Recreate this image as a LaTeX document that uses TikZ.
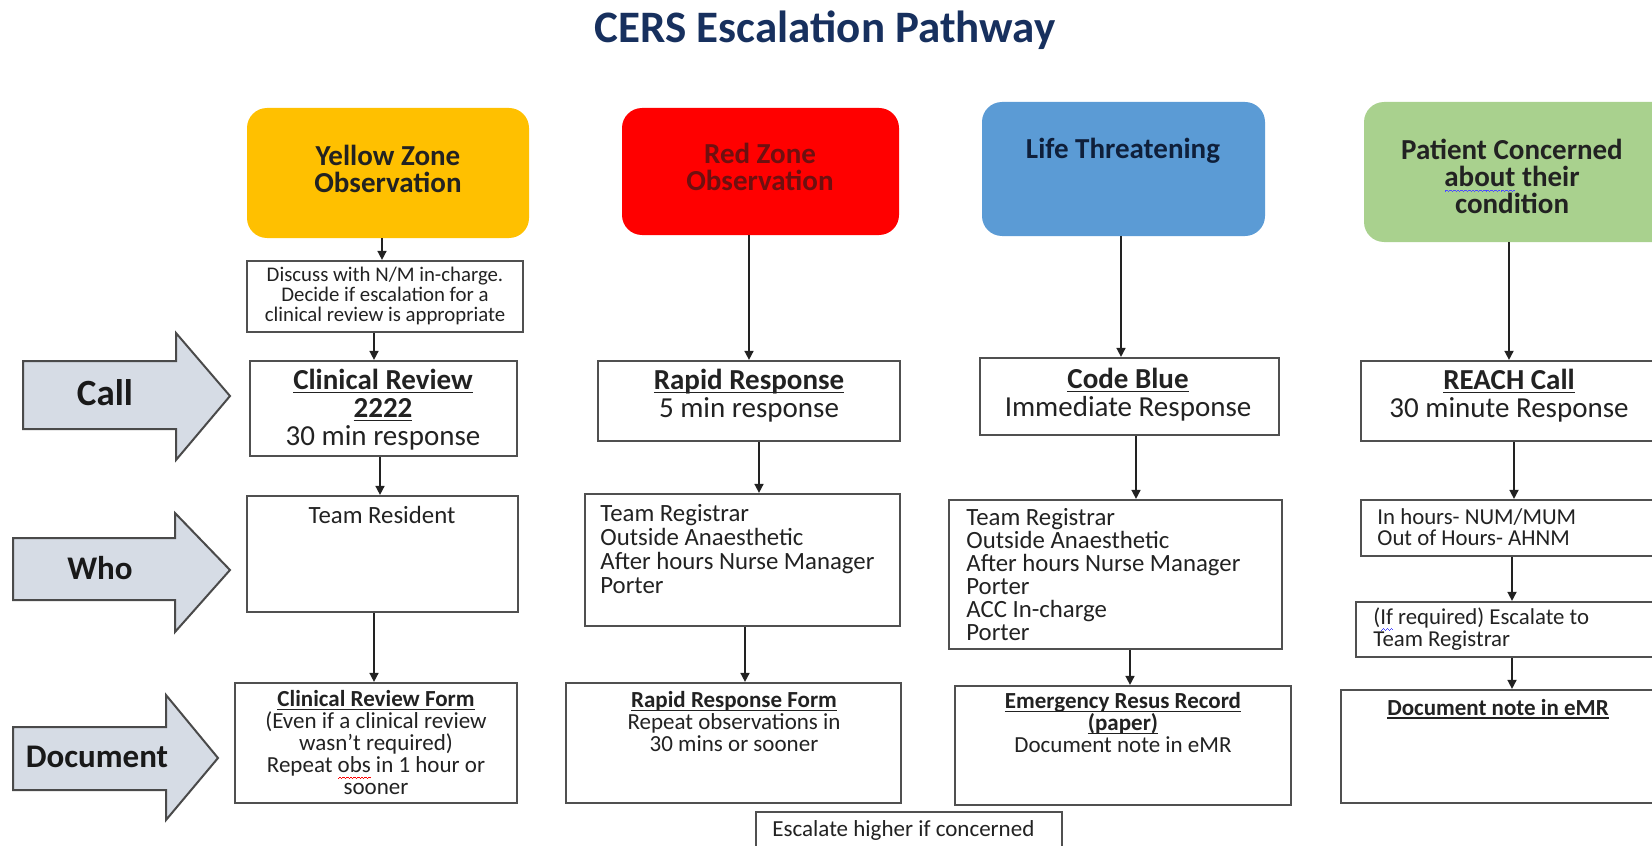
\documentclass[tikz,border=0pt]{standalone}
\usepackage{fontspec}
\setmainfont{Carlito}
\usetikzlibrary{arrows.meta,fit}

\definecolor{titleblue}{HTML}{17305E}
\definecolor{zyellow}{HTML}{FFC000}
\definecolor{zred}{HTML}{FF0000}
\definecolor{zblue}{HTML}{5B9BD5}
\definecolor{zgreen}{HTML}{A9D18E}
\definecolor{redtext}{HTML}{6E1010}
\definecolor{bluetext}{HTML}{0F1F3A}
\definecolor{boxgray}{HTML}{505050}
\definecolor{arrowfill}{HTML}{D6DCE5}
\definecolor{arrowedge}{HTML}{4A4A4A}
\definecolor{ink}{HTML}{222222}

% spell-checker style wavy underline, built from tiny staggered rules
\newsavebox\wavebox
\newcommand\wavyline[2]{\leavevmode\sbox\wavebox{#2}%
  \rlap{\smash{\textcolor{#1}{\hbox to \wd\wavebox{\xleaders\hbox{%
    \rule[-3.0pt]{0.45pt}{0.5pt}\rule[-2.65pt]{0.45pt}{0.5pt}%
    \rule[-2.3pt]{0.45pt}{0.5pt}\rule[-2.65pt]{0.45pt}{0.5pt}}\hfil}}}}%
  \usebox\wavebox}
% underline at a fixed depth just under the baseline
\newsavebox\ulbox
\newcommand\ul[1]{\leavevmode\sbox\ulbox{#1}%
  \rlap{\rule[-1.7pt]{\wd\ulbox}{0.65pt}}\usebox\ulbox}

% font sizes
\newcommand\ftitle{\fontsize{22.5}{26}\selectfont\bfseries}
\newcommand\fzone{\fontsize{14.5}{13.5}\selectfont\bfseries}
\newcommand\fcallbox{\fontsize{14.5}{14}\selectfont}
\newcommand\fdisc{\fontsize{10.4}{10}\selectfont}
\newcommand\fwho{\fontsize{12.4}{12}\selectfont}
\newcommand\fwhob{\fontsize{12.4}{11.5}\selectfont}
\newcommand\fdoc{\fontsize{11.5}{11}\selectfont}
\newcommand\fsmall{\fontsize{11.4}{10.75}\selectfont}
\newcommand\flab{\fontsize{16.5}{18}\selectfont\bfseries}

\tikzset{
  box/.style={draw=boxgray, line width=1.1pt, fill=white, inner sep=0pt},
  zone/.style={rounded corners=10pt, inner sep=0pt, draw=none},
  conn/.style={draw=ink, line width=0.8pt, -{Triangle[length=4.5pt,width=4.5pt]}},
  txt/.style={inner sep=0pt, align=center, text=ink},
  ztxt/.style={txt, font=\fzone},
  ctxt/.style={txt, font=\fcallbox},
  dtxt/.style={txt, font=\fdisc},
  wtxt/.style={txt, font=\fwho},
  doctxt/.style={txt, font=\fdoc},
  stxt/.style={txt, font=\fsmall},
  fat/.style={fill=arrowfill, draw=arrowedge, line width=1pt, line join=miter},
  lab/.style={inner sep=0pt, font=\flab, text=black!90},
}

\begin{document}
\begin{tikzpicture}[x=0.5pt,y=-0.5pt]
\useasboundingbox (0,0) rectangle (1652,845);
\clip (0,0) rectangle (1652,845);

% title
\node[inner sep=0pt, font=\ftitle, text=titleblue] (title) at (825,30) {CERS Escalation Pathway};

% side arrows
\draw[fat] (23,361) -- (176,361) -- (176,333) -- (230,396) -- (176,460) -- (176,429) -- (23,429) -- cycle;
\node[lab, font=\fontsize{18.5}{20}\selectfont\bfseries] (call-l) at (105,393) {Call};
\draw[fat] (13,538) -- (175,538) -- (175,513) -- (230,570) -- (175,632) -- (175,600) -- (13,600) -- cycle;
\node[lab] (who-l) at (100,568) {Who};
\draw[fat] (13,727) -- (166,727) -- (166,695) -- (218,758) -- (166,820) -- (166,790) -- (13,790) -- cycle;
\node[lab] (doc-l) at (97,757) {Document};

% trigger boxes
\node[zone, fill=zyellow, fit={(247,108) (529,238)}] (yellow) {};
\node[ztxt] (yellow-t) at (388,169) {Yellow Zone\\Observation};
\node[zone, fill=zred, fit={(622,108) (899,235)}] (red) {};
\node[ztxt, text=redtext] (red-t) at (760,167) {Red Zone\\Observation};
\node[zone, fill=zblue, fit={(982,102) (1265,236)}] (blue) {};
\node[ztxt, text=bluetext] (blue-t) at (1123,151) {Life Threatening};
\node[zone, fill=zgreen, fit={(1364,102) (1680,242)}] (green) {};
\node[ztxt] (green-t) at (1512,176) {Patient Concerned\\\wavyline{blue!70}{about} their\\condition};

% yellow column
\node[box, fit={(247,261) (523,332)}] (discuss) {};
\node[dtxt] (discuss-t) at (385,296) {Discuss with N/M in-charge.\\Decide if escalation for a\\clinical review is appropriate};
\node[box, fit={(250,361) (517,456)}] (clin) {};
\node[ctxt] (clin-t) at (383,410) {\textbf{\ul{Clinical Review}}\\\textbf{\ul{2222}}\\30 min response};
\node[box, fit={(247,496) (518,612)}] (resident) {};
\node[wtxt] (resident-t) at (382,515) {Team Resident};
\node[box, fit={(235,683) (517,803)}] (crform) {};
\node[doctxt] (crform-t) at (376,743) {\textbf{\ul{Clinical Review Form}}\\(Even if a clinical review\\wasn’t required)\\Repeat \wavyline{red}{obs} in 1 hour or\\sooner};

% red column
\node[box, fit={(598,361) (900,441)}] (rapid) {};
\node[ctxt] (rapid-t) at (749,396) {\textbf{\ul{Rapid Response}}\\5 min response};
\node[box, fit={(585,494) (900,626)}] (redwho) {};
\node[wtxt, align=left, anchor=west] (redwho-t) at (600,549) {Team Registrar\\Outside Anaesthetic\\After hours Nurse Manager\\Porter};
\node[box, fit={(566,683) (901,803)}] (rrform) {};
\node[doctxt] (rrform-t) at (734,722) {\textbf{\ul{Rapid Response Form}}\\Repeat observations in\\30 mins or sooner};

% blue column
\node[box, fit={(980,358) (1279,435)}] (code) {};
\node[ctxt] (code-t) at (1128,395) {\textbf{\ul{Code Blue}}\\Immediate Response};
\node[box, fit={(949,500) (1282,649)}] (bluewho) {};
\node[wtxt, font=\fwhob, align=left, anchor=west] (bluewho-t) at (966,575) {Team Registrar\\Outside Anaesthetic\\After hours Nurse Manager\\Porter\\ACC In-charge\\Porter};
\node[box, fit={(955,686) (1291,805)}] (err) {};
\node[doctxt] (err-t) at (1123,723) {\textbf{\ul{Emergency Resus Record}}\\\textbf{\ul{(paper)}}\\Document note in eMR};

% green column
\node[box, fit={(1361,361) (1680,441)}] (reach) {};
\node[ctxt] (reach-t) at (1509,396) {\textbf{\ul{REACH Call}}\\30 minute Response};
\node[box, fit={(1361,500) (1680,556)}] (hours) {};
\node[stxt, align=left, anchor=west] (hours-t) at (1377,527) {In hours- NUM/MUM\\Out of Hours- AHNM};
\node[box, fit={(1356,602) (1680,657)}] (ifreq) {};
\node[stxt, align=left, anchor=west] (ifreq-t) at (1373,629) {(\wavyline{blue!70}{If} required) Escalate to\\Team Registrar};
\node[box, fit={(1341,690) (1680,803)}] (docnote) {};
\node[doctxt] (docnote-t) at (1498,709) {\textbf{\ul{Document note in eMR}}};

% footer
\node[box, fit={(756,812) (1062,870)}] (escalate) {};
\node[doctxt, anchor=west] (escalate-t) at (772,830) {Escalate higher if concerned};

% connectors
\draw[conn] (382,0 |- yellow.south) -- (382,0 |- discuss.north);
\draw[conn] (374,0 |- discuss.south) -- (374,0 |- clin.north);
\draw[conn] (380,0 |- clin.south) -- (380,0 |- resident.north);
\draw[conn] (374,0 |- resident.south) -- (374,0 |- crform.north);

\draw[conn] (749,0 |- red.south) -- (749,0 |- rapid.north);
\draw[conn] (759,0 |- rapid.south) -- (759,0 |- redwho.north);
\draw[conn] (745,0 |- redwho.south) -- (745,0 |- rrform.north);

\draw[conn] (1121,0 |- blue.south) -- (1121,0 |- code.north);
\draw[conn] (1136,0 |- code.south) -- (1136,0 |- bluewho.north);
\draw[conn] (1130,0 |- bluewho.south) -- (1130,0 |- err.north);

\draw[conn] (1509,0 |- green.south) -- (1509,0 |- reach.north);
\draw[conn] (1514,0 |- reach.south) -- (1514,0 |- hours.north);
\draw[conn] (1512,0 |- hours.south) -- (1512,0 |- ifreq.north);
\draw[conn] (1512,0 |- ifreq.south) -- (1512,0 |- docnote.north);
\end{tikzpicture}
\end{document}
